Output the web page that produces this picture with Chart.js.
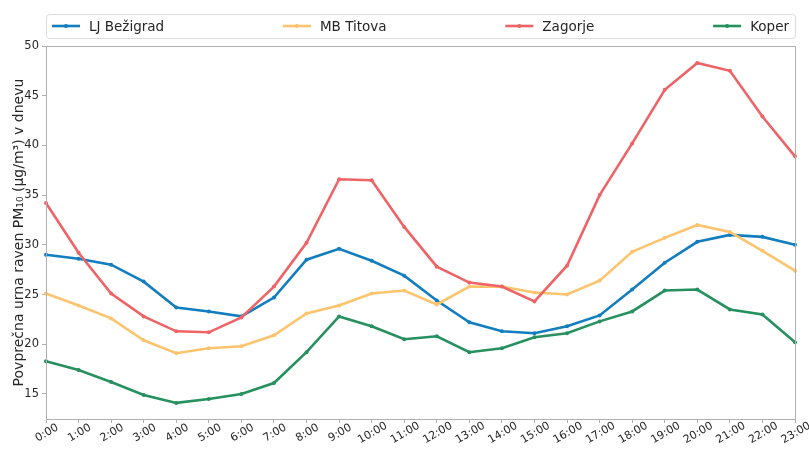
<!DOCTYPE html>
<html>
<head>
<meta charset="utf-8">
<script src="https://cdn.jsdelivr.net/npm/chart.js@4/dist/chart.umd.min.js"></script>
<style>
  html, body { margin: 0; padding: 0; background: #fff; }
  #wrap { width: 809px; height: 450px; }
</style>
</head>
<body>
<div id="wrap"><canvas id="chart" width="809" height="450"></canvas></div>
<script>
'use strict';

// Podatki (odčitani s slike)
const HOURS = ['0:00', '1:00', '2:00', '3:00', '4:00', '5:00', '6:00', '7:00', '8:00', '9:00', '10:00', '11:00',
  '12:00', '13:00', '14:00', '15:00', '16:00', '17:00', '18:00', '19:00', '20:00', '21:00', '22:00', '23:00'];
const LJ_BEZIGRAD = [29.0, 28.6, 28.0, 26.3, 23.7, 23.3, 22.8, 24.7, 28.5, 29.6, 28.4, 26.9,
  24.4, 22.2, 21.3, 21.1, 21.8, 22.9, 25.5, 28.2, 30.3, 31.0, 30.8, 30.0];
const MB_TITOVA = [25.1, 23.9, 22.6, 20.4, 19.1, 19.6, 19.8, 20.9, 23.1, 23.9, 25.1, 25.4,
  24.0, 25.8, 25.8, 25.2, 25.0, 26.4, 29.3, 30.7, 32.0, 31.3, 29.4, 27.4];
const ZAGORJE = [34.2, 29.2, 25.1, 22.8, 21.3, 21.2, 22.7, 25.8, 30.2, 36.6, 36.5, 31.8,
  27.8, 26.2, 25.8, 24.3, 27.9, 35.0, 40.2, 45.6, 48.3, 47.5, 42.9, 38.9];
const KOPER = [18.3, 17.4, 16.2, 14.9, 14.1, 14.5, 15.0, 16.1, 19.2, 22.8, 21.8, 20.5,
  20.8, 19.2, 19.6, 20.7, 21.1, 22.3, 23.3, 25.4, 25.5, 23.5, 23.0, 20.2];
const SERIES_LABELS = ['LJ Bežigrad', 'MB Titova', 'Zagorje', 'Koper'];
const Y_TICKS = [15, 20, 25, 30, 35, 40, 45, 50];
const Y_TITLE = 'Povprečna urna raven PM₁₀ (μg/m³) v dnevu';

const COLORS = ['#127dbf', '#fdc46e', '#ee6466', '#26905f'];
const FONT = 'DejaVu Sans';
const SPINE = '#b0b0b0';
const TEXT = '#262626';

function makeDataset(label, data, color, order) {
  return {
    label, data, order,
    borderColor: color,
    backgroundColor: color,
    borderWidth: 2.6,
    pointRadius: 2,
    pointHoverRadius: 2,
    pointBorderWidth: 0,
    tension: 0,
  };
}

// okvir okoli risalne površine (vse štiri stranice)
const framePlugin = {
  id: 'frame',
  afterDatasetsDraw(chart) {
    const { ctx, chartArea: a } = chart;
    ctx.save();
    ctx.strokeStyle = SPINE;
    ctx.lineWidth = 1;
    ctx.strokeRect(Math.round(a.left) + 0.5, Math.round(a.top) + 0.5,
      Math.round(a.right - a.left), Math.round(a.bottom - a.top));
    ctx.restore();
  },
};

// zasukane oznake na osi x, centrirane na oznako (kot v matplotlibu)
const xLabelsPlugin = {
  id: 'xLabels',
  afterDraw(chart) {
    const { ctx } = chart;
    const x = chart.scales.x;
    ctx.save();
    ctx.font = `11px "${FONT}"`;
    ctx.fillStyle = TEXT;
    ctx.textAlign = 'center';
    ctx.textBaseline = 'middle';
    HOURS.forEach((lab, i) => {
      ctx.save();
      ctx.translate(x.getPixelForValue(i) + 1, chart.chartArea.bottom + 14);
      ctx.rotate(-Math.PI / 6);
      ctx.fillText(lab, 0, 0);
      ctx.restore();
    });
    ctx.restore();
  },
};

// legenda čez celo širino osi (mode="expand")
const legendPlugin = {
  id: 'expandLegend',
  afterDraw(chart) {
    const { ctx, chartArea: a } = chart;
    const top = 14, h = 24, lineLen = 28, textGap = 9, padX = 6;
    const cy = top + h / 2;
    ctx.save();
    ctx.font = `13.5px "${FONT}"`;
    // okvir
    ctx.beginPath();
    ctx.roundRect(a.left + 0.5, top + 0.5, a.right - a.left, h, 3);
    ctx.fillStyle = 'rgba(255,255,255,0.85)';
    ctx.fill();
    ctx.strokeStyle = '#dcdcdc';
    ctx.lineWidth = 1;
    ctx.stroke();

    const ds = chart.data.datasets;
    const widths = ds.map((d) => lineLen + textGap + ctx.measureText(d.label).width);
    const total = widths.reduce((s, w) => s + w, 0);
    const gap = (a.right - a.left - 2 * padX - total) / (ds.length - 1);
    let x = a.left + padX;
    ds.forEach((d, i) => {
      ctx.strokeStyle = d.borderColor;
      ctx.lineWidth = 2.6;
      ctx.beginPath();
      ctx.moveTo(x, cy);
      ctx.lineTo(x + lineLen, cy);
      ctx.stroke();
      ctx.fillStyle = d.borderColor;
      ctx.beginPath();
      ctx.arc(x + lineLen / 2, cy, 2, 0, Math.PI * 2);
      ctx.fill();
      ctx.fillStyle = TEXT;
      ctx.textAlign = 'left';
      ctx.textBaseline = 'middle';
      ctx.fillText(d.label, x + lineLen + textGap, cy + 1);
      x += widths[i] + gap;
    });
    ctx.restore();
  },
};

new Chart(document.getElementById('chart').getContext('2d'), {
  type: 'line',
  data: {
    labels: HOURS,
    datasets: [
      makeDataset(SERIES_LABELS[0], LJ_BEZIGRAD, COLORS[0], 4),
      makeDataset(SERIES_LABELS[1], MB_TITOVA, COLORS[1], 3),
      makeDataset(SERIES_LABELS[2], ZAGORJE, COLORS[2], 2),
      makeDataset(SERIES_LABELS[3], KOPER, COLORS[3], 1),
    ],
  },
  options: {
    responsive: false,
    animation: false,
    devicePixelRatio: 1,
    layout: { padding: { top: 46, right: 14, left: 0, bottom: 0 } },
    plugins: { legend: { display: false }, tooltip: { enabled: false } },
    scales: {
      x: {
        type: 'category',
        offset: false,
        border: { display: false },
        grid: { display: true, drawOnChartArea: false, drawTicks: true, tickLength: 4, color: SPINE },
        ticks: { display: false, autoSkip: false },
        afterFit(scale) { scale.height = 31; },
      },
      y: {
        min: 12.48,
        max: 50,
        border: { display: false },
        grid: { display: true, drawOnChartArea: false, drawTicks: true, tickLength: 4, color: SPINE },
        ticks: { font: { family: FONT, size: 11.5 }, color: TEXT, padding: 3 },
        afterBuildTicks(scale) { scale.ticks = Y_TICKS.map((v) => ({ value: v })); },
        afterFit(scale) { scale.width = 46; },
        title: {
          display: true,
          text: Y_TITLE,
          font: { family: FONT, size: 14 },
          color: TEXT,
          padding: { top: 11, bottom: 0 },
        },
      },
    },
  },
  plugins: [framePlugin, xLabelsPlugin, legendPlugin],
});
</script>
</body>
</html>
